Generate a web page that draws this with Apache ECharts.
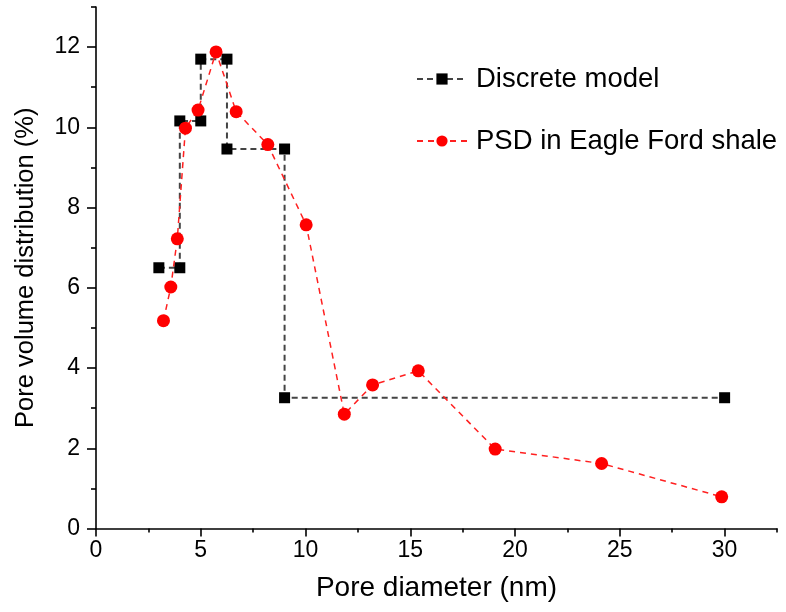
<!DOCTYPE html>
<html>
<head>
<meta charset="utf-8">
<script src="https://cdn.jsdelivr.net/npm/echarts@6/dist/echarts.min.js"></script>
<style>
html,body{margin:0;padding:0;background:#fff;}
#chart{width:786px;height:612px;}
</style>
</head>
<body>
<div id="chart"></div>
<script>
// Discrete model (step approximation)
var discreteX = [3, 4, 4, 5, 5, 6.25, 6.25, 9, 9, 30];
var discreteY = [6.5, 6.5, 10.16, 10.16, 11.7, 11.7, 9.46, 9.46, 3.26, 3.26];
// PSD in Eagle Ford shale
var psdX = [3.22, 3.57, 3.88, 4.27, 4.87, 5.73, 6.69, 8.20, 10.03, 11.85, 13.20, 15.38, 19.05, 24.13, 29.86];
var psdY = [5.18, 6.02, 7.22, 9.98, 10.43, 11.88, 10.39, 9.57, 7.57, 2.85, 3.58, 3.93, 1.98, 1.62, 0.79];

var xMajorTicks = [0, 5, 10, 15, 20, 25, 30];
var xMinorTicks = [2.5, 7.5, 12.5, 17.5, 22.5, 27.5, 32.5];
var yMajorTicks = [0, 2, 4, 6, 8, 10, 12];
var yMinorTicks = [1, 3, 5, 7, 9, 11, 13];

var seriesNames = ['Discrete model', 'PSD in Eagle Ford shale'];
var xTitle = 'Pore diameter (nm)';
var yTitle = 'Pore volume distribution (%)';

function pairs(xs, ys){ return xs.map(function(x,i){ return [x, ys[i]]; }); }

var FONT = 'Liberation Sans, Arial, Helvetica, sans-serif';
var chart = echarts.init(document.getElementById('chart'), null, {renderer:'canvas'});
var axisLineStyle = {color:'#000', width:1.6};
var legendText = {fontFamily:FONT, fontSize:27.5, color:'#000', padding:[0,0,0,4]};

chart.setOption({
  backgroundColor:'#fff',
  animation:false,
  grid:{left:96, right:9, top:7, bottom:83.5, containLabel:false},
  legend:[
    {data:[seriesNames[0]], left:416, top:65, padding:0, orient:'vertical', itemWidth:50, itemHeight:14,
     textStyle:legendText},
    {data:[seriesNames[1]], left:416, top:127, padding:0, orient:'vertical', itemWidth:50, itemHeight:14,
     textStyle:legendText}
  ],
  xAxis:[
    {type:'value', min:0, max:32.5, interval:2.5,
     name:xTitle, nameLocation:'middle', nameGap:46,
     nameTextStyle:{fontFamily:FONT, fontSize:28, color:'#000'},
     axisLine:{show:true, onZero:false, lineStyle:axisLineStyle},
     axisTick:{show:true, inside:false, length:8, customValues:xMajorTicks, lineStyle:axisLineStyle},
     axisLabel:{show:true, margin:11, customValues:xMajorTicks, fontFamily:FONT, fontSize:23, color:'#000'},
     splitLine:{show:false}},
    {type:'value', min:0, max:32.5, interval:2.5, position:'bottom',
     axisLine:{show:false},
     axisTick:{show:true, inside:false, length:4, customValues:xMinorTicks, lineStyle:axisLineStyle},
     axisLabel:{show:false}, splitLine:{show:false}}
  ],
  yAxis:[
    {type:'value', min:0, max:13, interval:1,
     name:yTitle, nameLocation:'middle', nameGap:57,
     nameTextStyle:{fontFamily:FONT, fontSize:25.5, color:'#000'},
     axisLine:{show:true, onZero:false, lineStyle:axisLineStyle},
     axisTick:{show:true, inside:false, length:9, customValues:yMajorTicks, lineStyle:axisLineStyle},
     axisLabel:{show:true, margin:16, customValues:yMajorTicks, fontFamily:FONT, fontSize:23, color:'#000'},
     splitLine:{show:false}},
    {type:'value', min:0, max:13, interval:1, position:'left',
     axisLine:{show:false},
     axisTick:{show:true, inside:false, length:5, customValues:yMinorTicks, lineStyle:axisLineStyle},
     axisLabel:{show:false}, splitLine:{show:false}}
  ],
  series:[
    {name:seriesNames[0], type:'line', data:pairs(discreteX, discreteY),
     symbol:'rect', symbolSize:11, showAllSymbol:true,
     itemStyle:{color:'#000'},
     lineStyle:{color:'#444', width:2, type:[6,4]},
     z:2},
    {name:seriesNames[1], type:'line', data:pairs(psdX, psdY),
     symbol:'circle', symbolSize:13, showAllSymbol:true,
     itemStyle:{color:'#ff0000'},
     lineStyle:{color:'#ff2020', width:1.5, type:[6,5]},
     z:3}
  ]
});
</script>
</body>
</html>
